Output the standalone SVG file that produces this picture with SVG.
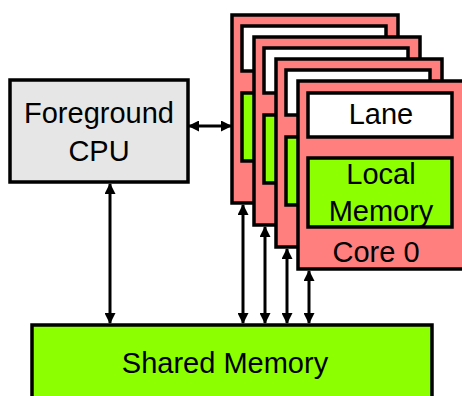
<svg xmlns="http://www.w3.org/2000/svg" width="462" height="396" viewBox="0 0 462 396">
<style>
.box{stroke:#000;stroke-width:3.5}
.core{fill:#ff7f7f}
.lane{fill:#fff}
.mem{fill:#8cff00}
.cpu{fill:#e6e6e6}
.t{font-family:"Liberation Sans",Arial,sans-serif;font-size:29px;fill:#000;text-anchor:middle}
.c{stroke:#000;stroke-width:3;fill:none;marker-start:url(#ah);marker-end:url(#ah)}
</style>
<defs>
<marker id="ah" viewBox="0 0 11 11" refX="10" refY="5.5" markerWidth="11" markerHeight="11" markerUnits="userSpaceOnUse" orient="auto-start-reverse">
<path d="M0,0 L11,5.5 L0,11 Z" fill="#000"/>
</marker>
</defs>
<rect width="462" height="396" fill="#fff"/>
<g id="shared-memory">
<rect class="box mem" x="32" y="325" width="400" height="80"/>
<text class="t" x="225" y="373">Shared Memory</text>
</g>
<g id="cpu">
<rect class="box cpu" x="10" y="80" width="178" height="102"/>
<text class="t" x="99" y="123">Foreground</text>
<text class="t" x="99" y="161">CPU</text>
</g>
<g id="core3">
<rect class="box core" x="232" y="15" width="166" height="188"/>
<rect class="box lane" x="242" y="26" width="144" height="45"/>
<rect class="box mem" x="242" y="93" width="144" height="68"/>
</g>
<g id="core2">
<rect class="box core" x="254" y="37" width="166" height="188"/>
<rect class="box lane" x="264" y="48" width="144" height="45"/>
<rect class="box mem" x="264" y="115" width="144" height="68"/>
</g>
<g id="core1">
<rect class="box core" x="276" y="59" width="166" height="188"/>
<rect class="box lane" x="286" y="70" width="144" height="45"/>
<rect class="box mem" x="286" y="137" width="144" height="68"/>
</g>
<g id="core0">
<rect class="box core" x="298" y="81" width="166" height="188"/>
<rect class="box lane" x="308" y="93" width="144" height="44"/>
<rect class="box mem" x="308" y="158" width="144" height="69"/>
<text class="t" x="381" y="124">Lane</text>
<text class="t" x="381" y="184">Local</text>
<text class="t" x="381" y="221">Memory</text>
<text class="t" x="376" y="262">Core 0</text>
</g>
<g id="connectors">
<line class="c" x1="189" y1="126" x2="231" y2="126"/>
<line class="c" x1="110" y1="184" x2="110" y2="323"/>
<line class="c" x1="243" y1="205" x2="243" y2="323"/>
<line class="c" x1="265" y1="227" x2="265" y2="323"/>
<line class="c" x1="287" y1="249" x2="287" y2="323"/>
<line class="c" x1="309" y1="271" x2="309" y2="323"/>
</g>
</svg>
